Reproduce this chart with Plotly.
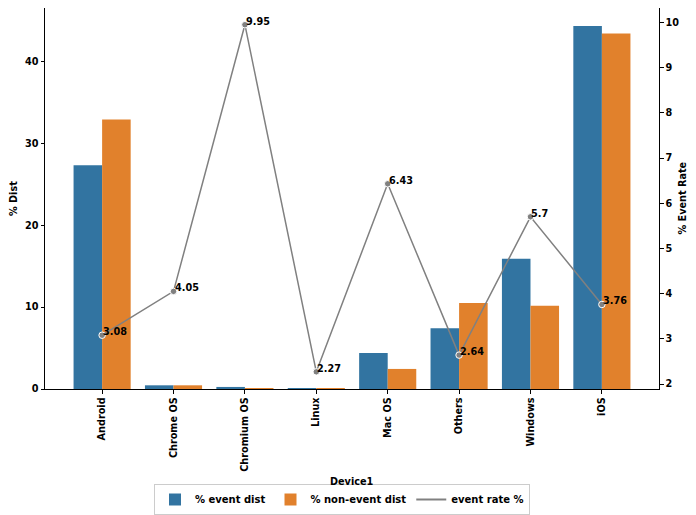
import plotly.graph_objects as go

categories = ["Android", "Chrome OS", "Chromium OS", "Linux", "Mac OS", "Others", "Windows", "iOS"]
event_dist = [27.3, 0.45, 0.25, 0.1, 4.4, 7.4, 15.9, 44.3]
non_event_dist = [32.9, 0.45, 0.1, 0.1, 2.45, 10.5, 10.15, 43.4]
event_rate = [3.08, 4.05, 9.95, 2.27, 6.43, 2.64, 5.7, 3.76]

FONT = "DejaVu Sans"
BLUE = "#3274a1"
ORANGE = "#e1812c"
GRAY = "#808080"
FS = 9.7

# The page body adds an 8px offset; the figure is sized so the plot lands where the reference has it.
W, H = 688, 507
L, R, T, B = 37, 37, 0, 126
PW, PH = W - L - R, H - T - B

def paper_x(px):
    return (px - L) / PW

def paper_y(py):
    return (H - B - py) / PH

fig = go.Figure()
fig.add_trace(go.Bar(x=categories, y=event_dist, name="<b>% event dist</b>",
                     marker=dict(color=BLUE, line=dict(width=0))))
fig.add_trace(go.Bar(x=categories, y=non_event_dist, name="<b>% non-event dist</b>",
                     marker=dict(color=ORANGE, line=dict(width=0))))
fig.add_trace(go.Scatter(x=categories, y=event_rate, yaxis="y2", mode="lines+markers",
                         line=dict(color=GRAY, width=1.5),
                         marker=dict(color=GRAY, size=6.5, line=dict(color="white", width=1)),
                         showlegend=False, cliponaxis=False))
fig.add_trace(go.Scatter(x=[None], y=[None], yaxis="y2", mode="lines",
                         line=dict(color=GRAY, width=2), name="<b>event rate %</b>"))

for c, v in zip(categories, event_rate):
    fig.add_annotation(x=c, y=v, yref="y2", text=f"<b>{v:g}</b>", showarrow=False,
                       xanchor="left", yanchor="bottom", yshift=-4, xshift=-1,
                       font=dict(family=FONT, size=FS, color="black"))

title_font = dict(family=FONT, size=FS, color="black")
fig.add_annotation(x=0.5, xref="paper", y=paper_y(473), yref="paper", text="<b>Device1</b>",
                   showarrow=False, xanchor="center", yanchor="middle", font=title_font)
fig.add_annotation(x=paper_x(5.5), xref="paper", y=0.5, yref="paper", text="<b>% Dist</b>",
                   showarrow=False, textangle=-90, xanchor="center", yanchor="middle",
                   font=title_font)
fig.add_annotation(x=paper_x(674), xref="paper", y=0.5, yref="paper", text="<b>% Event Rate</b>",
                   showarrow=False, textangle=-90, xanchor="center", yanchor="middle",
                   font=title_font)

axis_common = dict(showline=True, linecolor="black", linewidth=1, ticks="outside",
                   ticklen=3.5, tickcolor="black", showgrid=False, zeroline=False,
                   automargin=False,
                   tickfont=dict(family=FONT, size=FS, color="black"))

fig.update_layout(
    width=W, height=H,
    margin=dict(l=L, r=R, t=T, b=B, autoexpand=False),
    paper_bgcolor="white", plot_bgcolor="white",
    barmode="group", bargap=0.2, bargroupgap=0,
    font=dict(family=FONT, size=FS, color="black"),
    xaxis=dict(type="category", range=[-0.8, 7.8], mirror=True, tickangle=-90,
               **axis_common),
    yaxis=dict(range=[0, 46.5], mirror=True, tickvals=[0, 10, 20, 30, 40],
               ticktext=["<b>0</b>", "<b>10</b>", "<b>20</b>", "<b>30</b>", "<b>40</b>"],
               **axis_common),
    yaxis2=dict(overlaying="y", side="right", range=[1.89, 10.32],
                tickvals=list(range(2, 11)),
                ticktext=[f"<b>{t}</b>" for t in range(2, 11)],
                **axis_common),
    legend=dict(orientation="h", x=paper_x(334), xanchor="center", y=paper_y(476), yanchor="top",
                bordercolor="#cccccc", borderwidth=1, font=dict(family=FONT, size=10),
                traceorder="normal", itemwidth=30, tracegroupgap=0),
)
fig.update_xaxes(ticktext=[f"<b>{c}</b>" for c in categories], tickvals=categories)

fig.write_html("out.html")
